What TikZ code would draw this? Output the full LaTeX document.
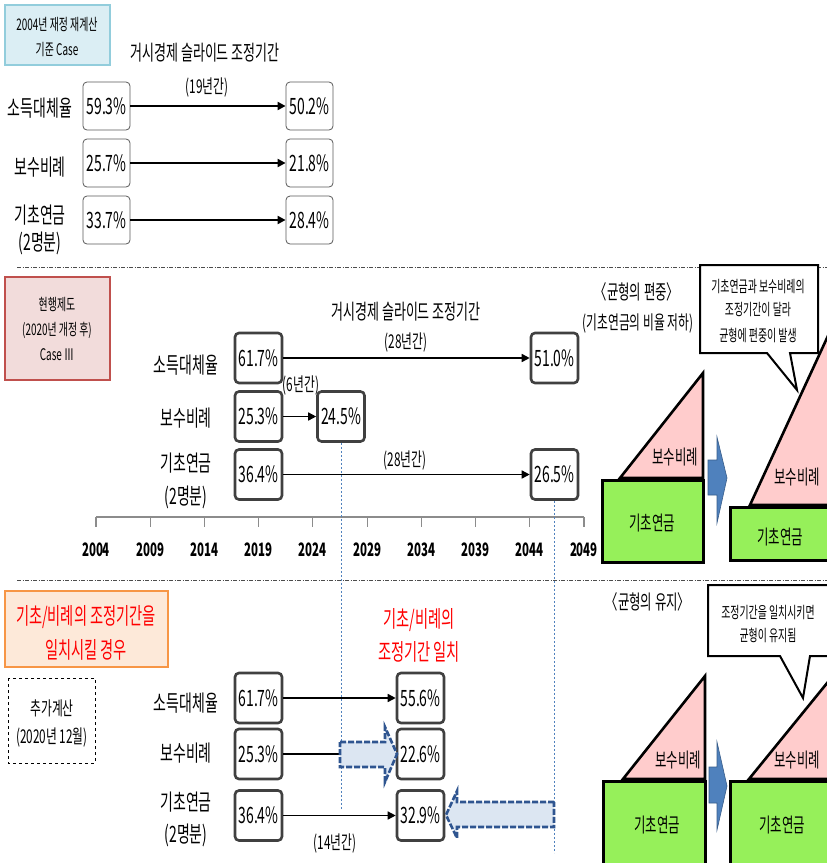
\documentclass[tikz,border=0pt]{standalone}
\usepackage{fontspec}
\setmainfont[FakeStretch=0.62]{Noto Sans CJK KR}
\usetikzlibrary{arrows.meta,positioning}
\newcommand\fsz[1]{\fontsize{#1}{#1}\selectfont}
\definecolor{capblue}{HTML}{DBEEF4}
\definecolor{capblueln}{HTML}{92CDDC}
\definecolor{cappink}{HTML}{F2DCDB}
\definecolor{cappinkln}{HTML}{C0504D}
\definecolor{caporange}{HTML}{FDE9D9}
\definecolor{caporangeln}{HTML}{F79646}
\definecolor{tripink}{HTML}{FFCCCC}
\definecolor{basegreen}{HTML}{96F05A}
\definecolor{arrblue}{HTML}{4F81BD}
\definecolor{arrblueln}{HTML}{385D8A}
\definecolor{dashfill}{HTML}{DCE6F2}
\definecolor{dashln}{HTML}{2F5590}
\begin{document}
\begin{tikzpicture}[x=1pt,y=-1pt,>={Triangle[length=8pt,width=8pt]},
  lbl/.style={font=\fsz{22.5},inner sep=0pt},
  pct/.style={draw=black!65,rounded corners=4pt,line width=0.8pt,minimum width=47pt,minimum height=48pt,inner sep=0pt,font=\fsz{22.5}},
  pctb/.style={pct,line width=2.6pt,draw=black!75,minimum height=50pt},
  note/.style={font=\fsz{19},inner sep=0pt},
  small/.style={font=\fsz{16},inner sep=0pt},
  mid/.style={font=\fsz{20},inner sep=0pt},
  redtxt/.style={font=\fsz{23},text=red,inner sep=0pt},
  sepline/.style={draw=black!70,line width=0.9pt,dash pattern=on 4pt off 1.5pt on 1pt off 1.5pt},
  vguide/.style={draw=arrblue,line width=1pt,dash pattern=on 2pt off 2pt},
  tri/.style={fill=tripink,draw=black,line width=2.6pt,line join=miter},
  base/.style={fill=basegreen,draw=black,line width=3pt},
  bigarr/.style={fill=arrblue,draw=arrblueln,line width=0.6pt},
  dasharr/.style={fill=dashfill,draw=dashln,line width=2.6pt,dash pattern=on 6pt off 2pt},
  bubble/.style={fill=white,draw=black,line width=2pt,line join=miter}]
\useasboundingbox (0,0) rectangle (827,863);
\clip (0,0) rectangle (827,863);
\fill[white] (0,0) rectangle (827,863);

% ---- 2004 baseline case
\draw[fill=capblue,draw=capblueln,line width=1.5pt] (5,5) rectangle (110,65);
\node[small] (capA1) at (57,25) {2004년 재정 재계산};
\node[small] (capA2) at (57,50) {기준 Case};
\node[font=\fsz{21},inner sep=0pt] (ttlA) at (205,53) {거시경제 슬라이드 조정기간};
\node[note] (yrsA) at (207,88) {(19년간)};
\node[lbl] (lA1) at (40,108) {소득대체율};
\node[lbl] (lA2) at (40,167) {보수비례};
\node[lbl] (lA3) at (40,215) {기초연금};
\node[lbl] (lA3b) at (40,243) {(2명분)};
\node[pct] (a1) at (106.5,106) {59.3\%};
\node[pct] (a2) at (106.5,163) {25.7\%};
\node[pct] (a3) at (106.5,220) {33.7\%};
\node[pct] (b1) at (309.5,106) {50.2\%};
\node[pct] (b2) at (309.5,163) {21.8\%};
\node[pct] (b3) at (309.5,220) {28.4\%};
\foreach \r in {1,2,3}
  \draw[->,line width=2pt] (a\r) -- (b\r);

\draw[sepline] (17,267) -- (827,267);

% ---- current system, Case III
\draw[fill=cappink,draw=cappinkln,line width=1.5pt] (5,277) rectangle (110,380);
\node[small] (capB1) at (57,305) {현행제도};
\node[small] (capB2) at (57,330) {(2020년 개정 후)};
\node[small] (capB3) at (57,355) {Case Ⅲ};
\node[font=\fsz{21},inner sep=0pt] (ttlB) at (406,312) {거시경제 슬라이드 조정기간};
\node[note] (yrsB1) at (406,342) {(28년간)};
\node[lbl] (lB1) at (186,365) {소득대체율};
\node[lbl] (lB2) at (186,418) {보수비례};
\node[lbl] (lB3) at (186,463) {기초연금};
\node[lbl] (lB3b) at (186,497) {(2명분)};
\node[pctb] (ml1) at (258.5,358) {61.7\%};
\node[pctb] (ml2) at (258.5,416.5) {25.3\%};
\node[pctb] (ml3) at (258.5,474.5) {36.4\%};
\node[pctb] (mr1) at (554.5,358) {51.0\%};
\node[pctb] (mr2) at (341,416.5) {24.5\%};
\node[pctb] (mr3) at (554.5,474.5) {26.5\%};
\node[note] (yrsB2) at (301,385) {(6년간)};
\node[note] (yrsB3) at (405,460) {(28년간)};
\foreach \r in {1,2,3}
  \draw[->,line width=1.5pt] (ml\r) -- (mr\r);

% time axis
\draw[black!45,line width=1.2pt] (96,517) -- (584,517);
\foreach \yr [count=\i from 0] in {2004,2009,...,2049}{
  \draw[black!45,line width=1.2pt] (96+\i*54.22,517) -- ++(0,10);
  \node[font=\bfseries\fsz{18.5},inner sep=0pt] (yr\yr) at (96+\i*54.22,550) {\yr};
}
\draw[vguide] (mr2.south) -- ++(0,366);
\draw[vguide] (mr3.south) -- ++(0,352);

% unbalanced pair
\node[mid] (balB) at (637,292) {〈균형의 편중〉};
\node[note] (balB2) at (638,323) {(기초연금의 비율 저하)};
\draw[tri] (620,478) -- (703,373) -- (703,478) -- cycle;
\draw[base] (602,480) rectangle (703,562);
\node[mid] (trB1) at (675,457) {보수비례};
\node[mid] (gnB1) at (652,523) {기초연금};
\draw[bigarr] (708,460) -- (717,460) -- (717,437) -- (727,478) -- (717,523) -- (717,495) -- (708,495) -- cycle;
\draw[tri] (750,505) -- (880,223) -- (880,505) -- cycle;
\draw[base] (730,507) rectangle (900,560);
\node[mid] (trB2) at (797,477) {보수비례};
\node[mid] (gnB2) at (780,537) {기초연금};
\draw[bubble] (700,265) -- (818,265) -- (818,353) -- (790,353) -- (797,390) -- (767,353) -- (700,353) -- cycle;
\node[small] (bubB1) at (758,287) {기초연금과 보수비례의};
\node[small] (bubB2) at (758,310) {조정기간이 달라};
\node[small] (bubB3) at (758,335) {균형에 편중이 발생};

\draw[sepline] (17,580) -- (827,580);

% ---- matched adjustment periods
\draw[fill=caporange,draw=caporangeln,line width=1.5pt] (5,591) rectangle (168,667);
\node[redtxt] (capC1) at (86,617) {기초/비례의 조정기간을};
\node[redtxt] (capC2) at (86,650) {일치시킬 경우};
\draw[dashed,line width=1pt] (8,678) rectangle (95,763);
\node[note] (capD1) at (52,708) {추가계산};
\node[note] (capD2) at (52,738) {(2020년 12월)};
\node[redtxt] (ttlC1) at (419,620) {기초/비례의};
\node[redtxt] (ttlC2) at (419,652) {조정기간 일치};
\node[lbl] (lC1) at (186,703) {소득대체율};
\node[lbl] (lC2) at (186,753) {보수비례};
\node[lbl] (lC3) at (186,802) {기초연금};
\node[lbl] (lC3b) at (186,835) {(2명분)};
\node[pctb] (cl1) at (258.5,698) {61.7\%};
\node[pctb] (cl2) at (258.5,754) {25.3\%};
\node[pctb] (cl3) at (258.5,815.5) {36.4\%};
\node[pctb] (cr1) at (420.5,698) {55.6\%};
\node[pctb] (cr2) at (420.5,754) {22.6\%};
\node[pctb] (cr3) at (420.5,815.5) {32.9\%};
\node[note] (yrsC) at (335,843) {(14년간)};
\draw[->,line width=1.5pt] (cl1) -- (cr1);
\draw[->,line width=1.5pt] (cl3) -- (cr3);
\coordinate (shift2) at (340,754);
\draw[line width=1.5pt] (cl2) -- (shift2);
\draw[dasharr] (340,742) -- (385,742) -- (385,727) -- (397,754) -- (385,782) -- (385,767) -- (340,767) -- cycle;
\draw[dasharr] (554,802) -- (457,802) -- (457,791) -- (446,815) -- (457,838) -- (457,827) -- (554,827) -- cycle;

% balanced pair
\node[mid] (balC) at (648,602) {〈균형의 유지〉};
\draw[tri] (623,779) -- (705,676) -- (705,779) -- cycle;
\draw[base] (603,781) rectangle (705,900);
\node[mid] (trC1) at (678,760) {보수비례};
\node[mid] (gnC1) at (657,825) {기초연금};
\draw[bigarr] (709,767) -- (717,767) -- (717,742) -- (727,786) -- (717,830) -- (717,803) -- (709,803) -- cycle;
\draw[tri] (749,779) -- (880,618) -- (880,779) -- cycle;
\draw[base] (730,781) rectangle (900,900);
\node[mid] (trC2) at (797,760) {보수비례};
\node[mid] (gnC2) at (782,825) {기초연금};
\draw[bubble] (708,585) -- (840,585) -- (840,656) -- (810,656) -- (803,698) -- (780,656) -- (708,656) -- cycle;
\node[small] (bubC1) at (768,613) {조정기간을 일치시키면};
\node[small] (bubC2) at (768,635) {균형이 유지됨};
\end{tikzpicture}
\end{document}
